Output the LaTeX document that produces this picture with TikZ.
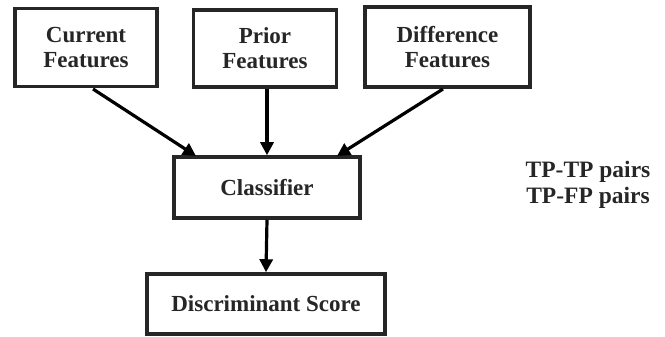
\documentclass[tikz,border=0pt]{standalone}
\usepackage{fontspec}
\setmainfont{Liberation Serif}
\usetikzlibrary{arrows.meta}
\begin{document}
\begin{tikzpicture}[x=1pt,y=-1pt,
  box/.style={draw=black!85, line width=3.5pt, fill=white, inner sep=0pt, align=center,
    font=\fontsize{23}{25}\selectfont\bfseries, text=black!85},
  arr/.style={line width=3.2pt, draw=black, -{Triangle[length=13pt,width=13pt]}},
  lbl/.style={font=\fontsize{23.5}{26}\selectfont\bfseries, text=black!85, align=center}]
\useasboundingbox (0,0) rectangle (665,337);
\node[box, minimum width=142pt, minimum height=78pt] (cur) at (86,47.5) {Current\\Features};
\node[box, minimum width=143pt, minimum height=77pt] (pri) at (265,48.5) {Prior\\Features};
\node[box, minimum width=165pt, minimum height=80pt] (dif) at (447.5,47) {Difference\\Features};
\node[box, minimum width=186pt, minimum height=61pt] (cls) at (267,187.5) {Classifier};
\node[box, minimum width=238pt, minimum height=60pt] (dis) at (266,304) {Discriminant Score};
\node[lbl] (pairs) at (588,185) {TP-TP pairs\\TP-FP pairs};
\coordinate (c1) at (93,89);
\coordinate (c2) at (196,156);
\coordinate (d1) at (443,89);
\coordinate (d2) at (337,156);
\draw[arr] (c1) -- (c2);
\draw[arr] (pri.south -| cls.north) -- (cls.north);
\draw[arr] (d1) -- (d2);
\draw[arr] (cls.south) -- (dis.north);
\end{tikzpicture}
\end{document}
